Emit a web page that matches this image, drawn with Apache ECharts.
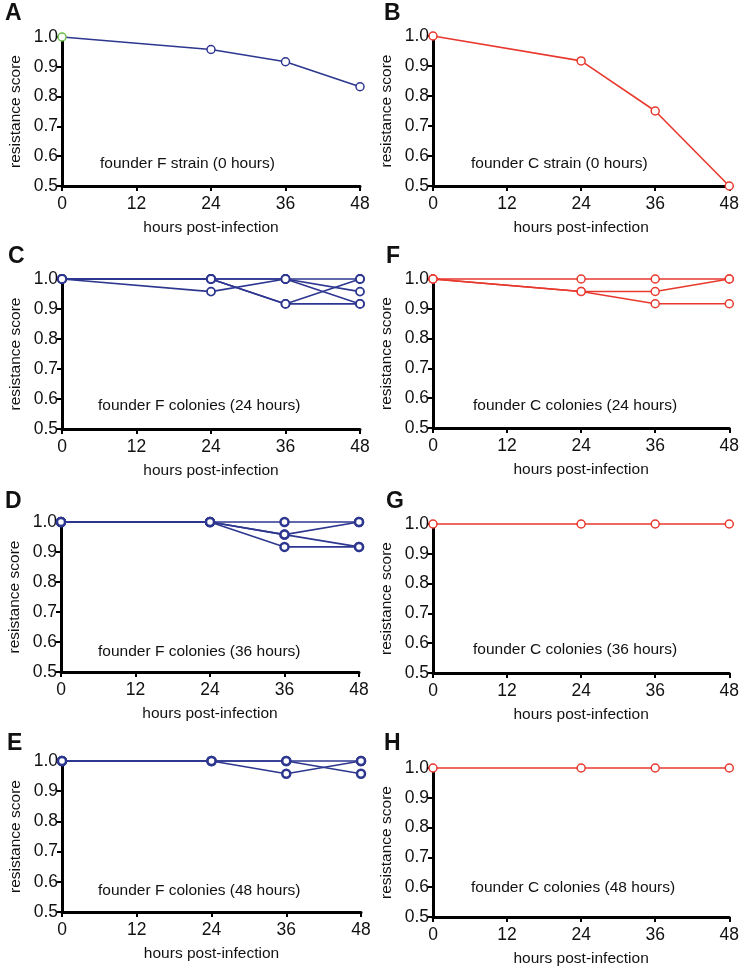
<!DOCTYPE html>
<html>
<head>
<meta charset="utf-8">
<script src="https://cdn.jsdelivr.net/npm/echarts@6/dist/echarts.min.js"></script>
<style>
html,body{margin:0;padding:0;background:#fff;}
#c{width:742px;height:969px;}
</style>
</head>
<body>
<div id="c"></div>
<script>
// ---- data ----
const hours = [0, 24, 36, 48];
const xTicks = [0, 12, 24, 36, 48];
const yTicks = [0.5, 0.6, 0.7, 0.8, 0.9, 1.0];

const panelA = [[1.0, 0.958, 0.917, 0.833]];
const panelB = [[1.0, 0.917, 0.75, 0.5]];
const panelC = [
  [1.0, 1.0, 1.0, 1.0],
  [1.0, 1.0, 0.917, 0.917],
  [1.0, 0.958, 1.0, 0.958],
  [1.0, 1.0, 0.917, 1.0],
  [1.0, 1.0, 1.0, 0.917]
];
const panelF = [
  [1.0, 1.0, 1.0, 1.0],
  [1.0, 0.958, 0.958, 1.0],
  [1.0, 0.958, 0.917, 0.917]
];
const panelD = [
  [1.0, 1.0, 1.0, 1.0],
  [1.0, 1.0, 0.958, 1.0],
  [1.0, 1.0, 0.958, 0.917],
  [1.0, 1.0, 0.917, 0.917]
];
const panelG = [[1.0, 1.0, 1.0, 1.0]];
const panelE = [
  [1.0, 1.0, 1.0, 1.0],
  [1.0, 1.0, 1.0, 0.958],
  [1.0, 1.0, 0.958, 1.0]
];
const panelH = [[1.0, 1.0, 1.0, 1.0]];

const panelLetters = ['A', 'B', 'C', 'F', 'D', 'G', 'E', 'H'];
const panelTexts = [
  'founder F strain (0 hours)',
  'founder C strain (0 hours)',
  'founder F colonies (24 hours)',
  'founder C colonies (24 hours)',
  'founder F colonies (36 hours)',
  'founder C colonies (36 hours)',
  'founder F colonies (48 hours)',
  'founder C colonies (48 hours)'
];
const panelData = [panelA, panelB, panelC, panelF, panelD, panelG, panelE, panelH];
const xName = 'hours post-infection';
const yName = 'resistance score';

// ---- layout / style ----
const BLUE = '#2e3790';
const RED = '#e8392e';
const GREEN = '#6cc04a';
const FONT = 'Liberation Sans, Arial, sans-serif';
const panelColor = [BLUE, RED, BLUE, RED, BLUE, RED, BLUE, RED];
const markerBorder = [1.5, 1.5, 1.8, 1.5, 2.5, 1.5, 2.5, 1.5];
const grids = [
  {left: 62, top: 37, width: 298, height: 149},
  {left: 433, top: 36, width: 299, height: 150},
  {left: 62, top: 279, width: 298, height: 150},
  {left: 433, top: 279, width: 299, height: 149},
  {left: 61, top: 522, width: 298, height: 150},
  {left: 433, top: 524, width: 299, height: 149},
  {left: 62, top: 761, width: 299, height: 151},
  {left: 433, top: 768, width: 299, height: 149}
];
const letterPos = [[5, 2], [384, 2], [8, 245], [386, 245], [5, 490], [386, 490], [7, 732], [384, 732]];
const textPos = [[100, 164], [471, 164], [98, 406], [473, 406], [98, 652], [473, 650], [98, 891], [471, 888]];

const xAxes = [], yAxes = [], series = [], graphics = [];
grids.forEach((g, i) => {
  xAxes.push({
    gridIndex: i, type: 'value', min: xTicks[0], max: xTicks[xTicks.length - 1], interval: 12,
    name: xName, nameLocation: 'middle', nameGap: 34,
    nameTextStyle: {fontFamily: FONT, fontSize: 15.5, color: '#111'},
    axisLine: {show: true, onZero: false, lineStyle: {color: '#000', width: 3}},
    axisTick: {show: true, length: 5, lineStyle: {color: '#000', width: 2}},
    axisLabel: {fontFamily: FONT, fontSize: 17.5, color: '#111', margin: 9},
    splitLine: {show: false}
  });
  yAxes.push({
    gridIndex: i, type: 'value', min: yTicks[0], max: yTicks[yTicks.length - 1], interval: 0.1,
    name: yName, nameLocation: 'middle', nameGap: 38,
    nameTextStyle: {fontFamily: FONT, fontSize: 15.5, color: '#111'},
    axisLine: {show: true, onZero: false, lineStyle: {color: '#000', width: 3}},
    axisTick: {show: true, length: 5, lineStyle: {color: '#000', width: 2}},
    axisLabel: {fontFamily: FONT, fontSize: 17.5, color: '#111', margin: 4,
      formatter: v => v.toFixed(1)},
    splitLine: {show: false}
  });
  panelData[i].forEach((vals, k) => {
    const data = vals.map((v, j) => {
      const item = {value: [hours[j], v]};
      if (i === 0 && j === 0) item.itemStyle = {borderColor: GREEN};
      return item;
    });
    series.push({
      type: 'line', xAxisIndex: i, yAxisIndex: i, data: data,
      clip: false, symbol: 'circle', symbolSize: 8,
      lineStyle: {color: panelColor[i], width: 1.6},
      itemStyle: {color: '#fff', borderColor: panelColor[i], borderWidth: markerBorder[i]},
      z: 3 + k, animation: false, silent: true
    });
  });
  graphics.push({
    type: 'text', left: letterPos[i][0], top: letterPos[i][1],
    style: {text: panelLetters[i], font: 'bold 23px ' + FONT, fill: '#111'}
  });
  graphics.push({
    type: 'text', x: textPos[i][0], y: textPos[i][1],
    style: {text: panelTexts[i], font: '15.5px ' + FONT, fill: '#111', textVerticalAlign: 'middle', textAlign: 'left'}
  });
});

const chart = echarts.init(document.getElementById('c'), null, {renderer: 'canvas'});
chart.setOption({
  animation: false,
  grid: grids,
  xAxis: xAxes,
  yAxis: yAxes,
  series: series,
  graphic: graphics
});
</script>
</body>
</html>
